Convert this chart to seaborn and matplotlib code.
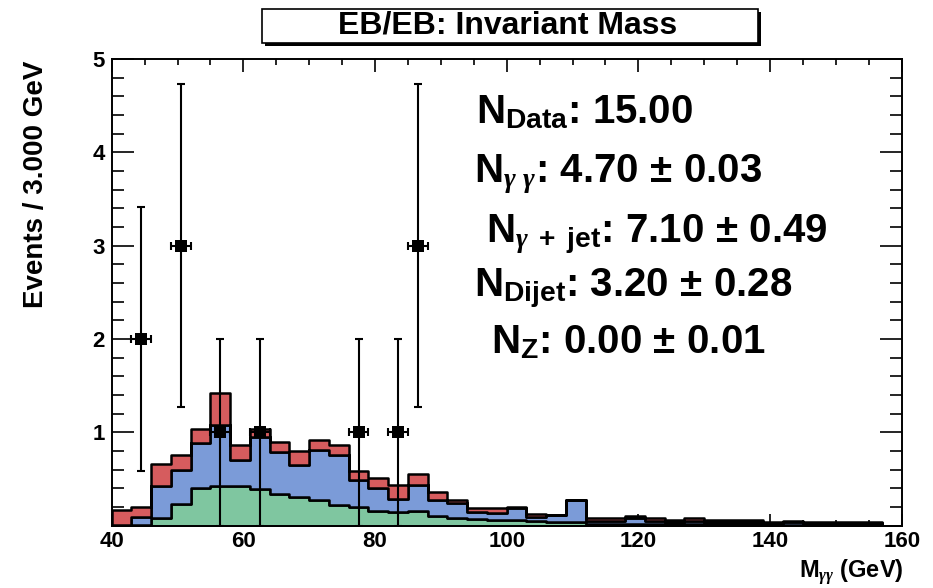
import matplotlib
matplotlib.use("Agg")
import matplotlib.pyplot as plt
from matplotlib.patches import Rectangle
from matplotlib.ticker import MultipleLocator
import numpy as np
import pandas as pd
import seaborn as sns

# 3 GeV bins from 40 to 160 GeV
BIN_LO = 40
BIN_HI = 160
BIN_W = 3

# per-bin expected events, one entry per bin (40 bins)
GAMGAM = [0.00, 0.01, 0.08, 0.23, 0.40, 0.42, 0.42, 0.39, 0.34, 0.31,
          0.27, 0.22, 0.20, 0.16, 0.15, 0.16, 0.10, 0.08, 0.07, 0.06,
          0.06, 0.05, 0.04, 0.04, 0.02, 0.02, 0.02, 0.02, 0.02, 0.02,
          0.02, 0.02, 0.02, 0.01, 0.01, 0.01, 0.01, 0.01, 0.01, 0.00]
GAMJET = [0.01, 0.08, 0.34, 0.37, 0.49, 0.66, 0.28, 0.56, 0.45, 0.34,
          0.54, 0.54, 0.29, 0.24, 0.13, 0.27, 0.17, 0.16, 0.08, 0.08,
          0.13, 0.04, 0.07, 0.23, 0.03, 0.03, 0.06, 0.03, 0.02, 0.03,
          0.02, 0.02, 0.02, 0.02, 0.03, 0.02, 0.02, 0.02, 0.02, 0.00]
DIJET = [0.16, 0.11, 0.24, 0.16, 0.15, 0.34, 0.16, 0.09, 0.11, 0.15,
         0.11, 0.10, 0.09, 0.11, 0.16, 0.12, 0.09, 0.03, 0.04, 0.05,
         0.01, 0.035, 0.00, 0.00, 0.03, 0.03, 0.02, 0.03, 0.02, 0.03,
         0.02, 0.02, 0.02, 0.01, 0.01, 0.01, 0.01, 0.01, 0.01, 0.00]

# observed data
DATA_X = [44.5, 50.5, 56.5, 62.5, 77.5, 83.5, 86.5]
DATA_N = [2, 3, 1, 1, 1, 1, 3]

PROCS = ["Dijet", "gamma+jet", "gammagamma"]  # top -> bottom of the stack
COLORS = {"gammagamma": "#7fc6a0", "gamma+jet": "#7b9bd8", "Dijet": "#d65c5e"}

TITLE = "EB/EB: Invariant Mass"
STATS = [
    (r"$\mathrm{N}_{\mathrm{Data}}$: 15.00", 476, 123),
    (r"$\mathrm{N}_{\gamma\ \gamma}$: 4.70$\,\pm\,$0.03", 474, 182),
    (r"$\mathrm{N}_{\gamma\ +\ \mathrm{jet}}$: 7.10$\,\pm\,$0.49", 486, 242),
    (r"$\mathrm{N}_{\mathrm{Dijet}}$: 3.20$\,\pm\,$0.28", 474, 297),
    (r"$\mathrm{N}_{\mathrm{Z}}$: 0.00$\,\pm\,$0.01", 491, 353),
]

W, H = 933, 588


def fx(px):
    return px / W


def fy(py):
    return 1 - py / H


def main():
    sns.set_theme(style="ticks")
    plt.rcParams["font.family"] = ["Liberation Sans", "DejaVu Sans"]
    plt.rcParams["font.weight"] = "bold"
    for key in ("text.color", "axes.labelcolor", "xtick.color", "ytick.color",
                "axes.edgecolor"):
        plt.rcParams[key] = "black"
    plt.rcParams["mathtext.fontset"] = "custom"
    plt.rcParams["mathtext.rm"] = "Liberation Sans:bold"
    plt.rcParams["mathtext.bf"] = "Liberation Sans:bold"
    plt.rcParams["mathtext.it"] = "Liberation Serif:italic"
    plt.rcParams["mathtext.sf"] = "Liberation Sans:bold"

    centers = np.arange(BIN_LO, BIN_HI, BIN_W) + BIN_W / 2
    frames = []
    for name, vals in [("gammagamma", GAMGAM), ("gamma+jet", GAMJET), ("Dijet", DIJET)]:
        frames.append(pd.DataFrame({"mass": centers, "w": vals, "proc": name}))
    df = pd.concat(frames, ignore_index=True)

    fig = plt.figure(figsize=(W / 100, H / 100), dpi=100)
    ax = fig.add_axes([fx(111.7), fy(525.6), fx(901.7) - fx(111.7), fy(59.1) - fy(525.6)])

    sns.histplot(
        data=df, x="mass", weights="w", hue="proc", hue_order=PROCS,
        multiple="stack", binwidth=BIN_W, binrange=(BIN_LO, BIN_HI),
        element="step", fill=True,
        palette=COLORS, edgecolor="black", linewidth=1.8, alpha=1,
        legend=False, ax=ax,
    )

    dx = np.array(DATA_X)
    dn = np.array(DATA_N, dtype=float)
    ax.errorbar(dx, dn, yerr=np.sqrt(dn), xerr=BIN_W / 2, fmt="none",
                ecolor="black", elinewidth=1.5, capsize=3, capthick=1.5, zorder=5)
    sns.scatterplot(x=dx, y=dn, marker="s", s=80, color="black",
                    edgecolor="black", linewidth=0, ax=ax, zorder=6)

    ax.set_xlim(BIN_LO, BIN_HI)
    ax.set_ylim(0, 5)
    ax.set_xticks(np.arange(40, 161, 20))
    ax.set_yticks([1, 2, 3, 4, 5])
    ax.xaxis.set_minor_locator(MultipleLocator(5))
    ax.yaxis.set_minor_locator(MultipleLocator(0.2))
    ax.tick_params(axis="both", which="both", direction="in", top=True,
                   right=True, width=1.2, labelsize=16, colors="black")
    ax.tick_params(axis="y", which="major", length=16, pad=5)
    ax.tick_params(axis="y", which="minor", length=8.5)
    ax.tick_params(axis="x", which="major", length=9, pad=4)
    ax.tick_params(axis="x", which="minor", length=4.5)
    for lab in ax.get_xticklabels() + ax.get_yticklabels():
        lab.set_fontweight("bold")
    for sp in ax.spines.values():
        sp.set_linewidth(1.4)
        sp.set_color("black")
    ax.set_xlabel("")
    ax.set_ylabel("")

    fig.text(fx(36), fy(61), "Events / 3.000 GeV", rotation=90, ha="center",
             va="top", fontsize=20, fontweight="bold")
    fig.text(fx(904), fy(578), r"$\mathrm{M}_{\gamma\gamma}$ (GeV)", ha="right",
             va="baseline", fontsize=17, fontweight="bold")

    # title box with ROOT-style shadow
    fig.add_artist(Rectangle((fx(265), fy(46)), fx(761) - fx(265), fy(12) - fy(46),
                             transform=fig.transFigure, facecolor="black",
                             edgecolor="black", lw=0))
    fig.add_artist(Rectangle((fx(262), fy(43)), fx(758) - fx(262), fy(9) - fy(43),
                             transform=fig.transFigure, facecolor="white",
                             edgecolor="black", lw=1.2))
    fig.text(fx(508), fy(25), TITLE, ha="center", va="center",
             fontsize=23, fontweight="bold")

    for txt, x0, y0 in STATS:
        fig.text(fx(x0), fy(y0), txt, ha="left", va="baseline",
                 fontsize=29, fontweight="bold")

    fig.savefig("out.png", dpi=100)
    plt.close(fig)


if __name__ == "__main__":
    main()
